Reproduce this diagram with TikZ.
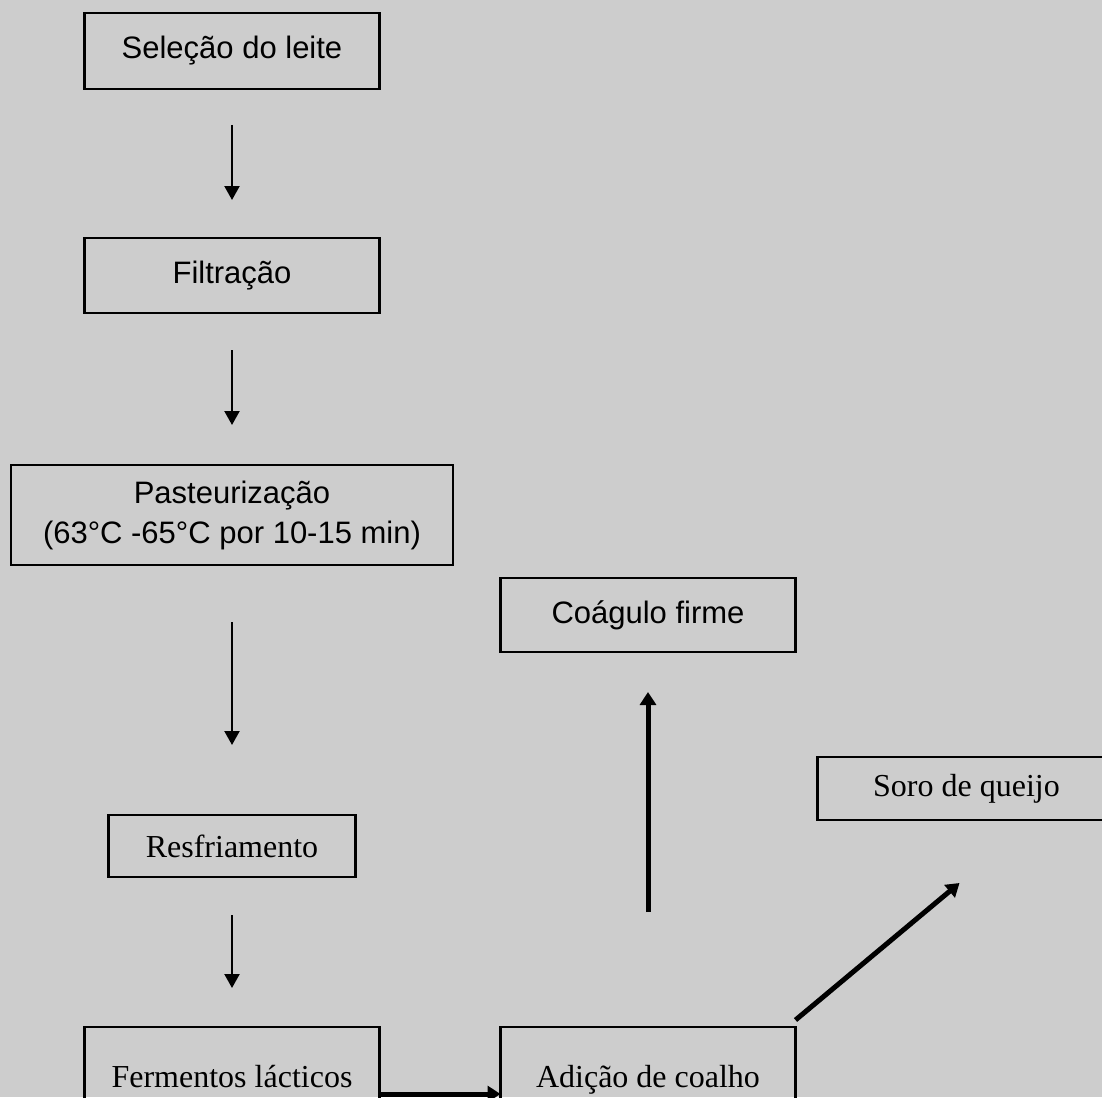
\documentclass[tikz,border=0pt]{standalone}
\usepackage{fontspec}
\setmainfont{Liberation Serif}
\setsansfont{Liberation Sans}
\usepackage{tikz}
\usetikzlibrary{positioning,arrows.meta}
\definecolor{paper}{HTML}{CDCDCD}
\tikzset{
  box/.style={draw=black,line width=2.2pt,align=center,font=\sffamily\fontsize{31}{40}\selectfont,
              inner sep=0pt,outer sep=0pt,minimum width=#1},
  box/.default=295pt,
  serifbox/.style={box=#1,font=\rmfamily\fontsize{32}{38}\selectfont},
  serifbox/.default=295pt,
  flow/.style={-{Triangle[length=14pt,width=15pt]},draw=black,line width=2.2pt},
  heavyflow/.style={-{Triangle[length=13pt,width=16pt]},draw=black,line width=5pt},
}
\begin{document}
\begin{tikzpicture}
  \fill[paper] (0,0) rectangle (1102pt,-1097pt);
  \useasboundingbox (0,0) rectangle (1102pt,-1097pt);
  % main column
  \node[box, minimum height=76pt] (sel) at (232pt,-51pt) {Seleção do leite};
  \node[box, minimum height=75pt, below=149pt of sel] (filt) {Filtração};
  \node[box=442pt, minimum height=100pt, below=152pt of filt] (past) {Pasteurização\\(63°C -65°C por 10-15 min)};
  \node[serifbox=247pt, minimum height=62pt, below=250pt of past] (resf) {Resfriamento};
  \node[serifbox, text height=60pt, text depth=74pt, below=150pt of resf] (ferm) {Fermentos lácticos};
  % right side
  \node[serifbox, text height=60pt, text depth=74pt, right=121pt of ferm] (adic) {Adição de coalho};
  \node[box, minimum height=74pt, above=375pt of adic] (coag) {Coágulo firme};
  \node[serifbox=298pt, minimum height=63pt, below right=105pt and 22pt of coag] (soro) {Soro de queijo};
  \coordinate (soroin) at ([shift={(142pt,-63pt)}]soro.south west);
  % arrows
  \draw[flow, shorten <=36pt, shorten >=38pt] (sel) -- (filt);
  \draw[flow, shorten <=37pt, shorten >=40pt] (filt) -- (past);
  \draw[flow, shorten <=57pt, shorten >=70pt] (past) -- (resf);
  \draw[flow, shorten <=38pt, shorten >=39pt] (resf) -- (ferm);
  \draw[heavyflow] (ferm) -- (adic);
  \draw[heavyflow, shorten <=115pt, shorten >=40pt] (adic) -- (coag);
  \draw[heavyflow] ([yshift=7pt]adic.north east) -- (soroin);
\end{tikzpicture}
\end{document}
